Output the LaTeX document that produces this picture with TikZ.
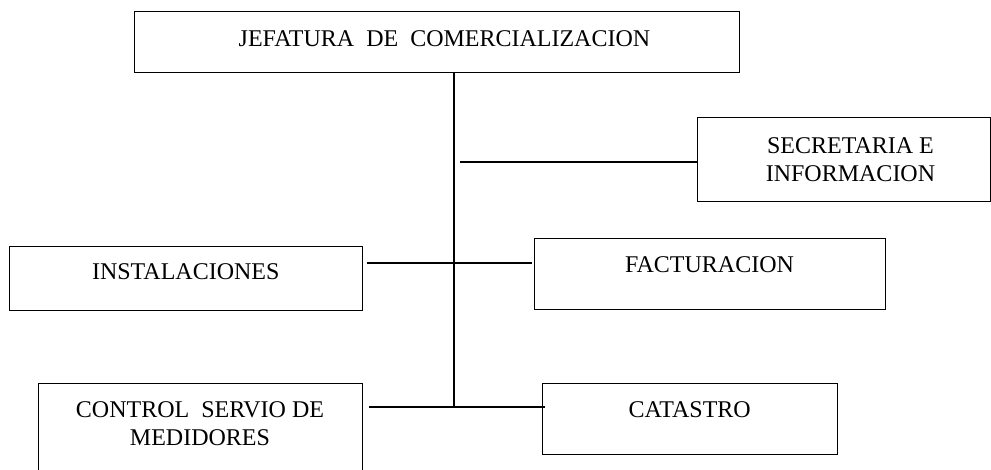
\documentclass[tikz,border=0pt]{standalone}
\usepackage{fontspec}
\setmainfont{Liberation Serif}
\usepackage{tikz}
\usetikzlibrary{positioning,calc}

\begin{document}
\begin{tikzpicture}[
    x=0.5pt, y=-0.5pt,
    unidad/.style={
        rectangle,
        draw=black,
        line width=0.5pt,
        inner sep=0pt,
        font=\fontsize{12}{14}\selectfont,
        align=center
    },
    enlace/.style={
        draw=black,
        line width=0.9pt
    }
]
    \useasboundingbox (0,0) rectangle (991,470);
    \clip (0,0) rectangle (991,470);

    % ====== jefatura (arriba) ======
    \node[unidad, minimum width=302.5pt, minimum height=30.5pt, text depth=3.5pt] (jefatura) at (436.5,42.5) {\hspace*{8pt}JEFATURA~~DE~~COMERCIALIZACION};

    % ====== unidades de apoyo ======
    \node[unidad, minimum width=146.5pt, minimum height=42pt] (secretaria) at (843.5,160) {\hspace*{7pt}SECRETARIA E\\\hspace*{7pt}INFORMACION};
    \node[unidad, minimum width=176.25pt, minimum height=32pt, text depth=7pt] (instalaciones) at (185.75,279) {INSTALACIONES};
    \node[unidad, minimum width=175.5pt, minimum height=35.5pt, text depth=10pt] (facturacion) at (709.5,274.5) {FACTURACION};
    \node[unidad, minimum width=162pt, minimum height=47pt, text depth=6pt] (control) at (200,430) {CONTROL~~SERVIO DE\\MEDIDORES};
    \node[unidad, minimum width=147.75pt, minimum height=35.5pt, text depth=8.5pt] (catastro) at (689.75,418.5) {CATASTRO};

    % puntos de la linea vertical
    \coordinate (tronco) at (454,407);
    \coordinate (rama_sec) at (460,162);
    \coordinate (rama_fac) at (454,263);

    % ====== lineas ======
    \draw[enlace] (jefatura.south -| tronco) -- (tronco);
    \draw[enlace] (rama_sec) -- (rama_sec -| secretaria.west);
    \draw[enlace, shorten <=2.3pt, shorten >=0.8pt] (rama_fac -| instalaciones.east) -- (rama_fac -| facturacion.west);
    \draw[enlace, shorten <=3.2pt] (tronco -| control.east) -- ([xshift=1.5pt]tronco -| catastro.west);

\end{tikzpicture}
\end{document}
